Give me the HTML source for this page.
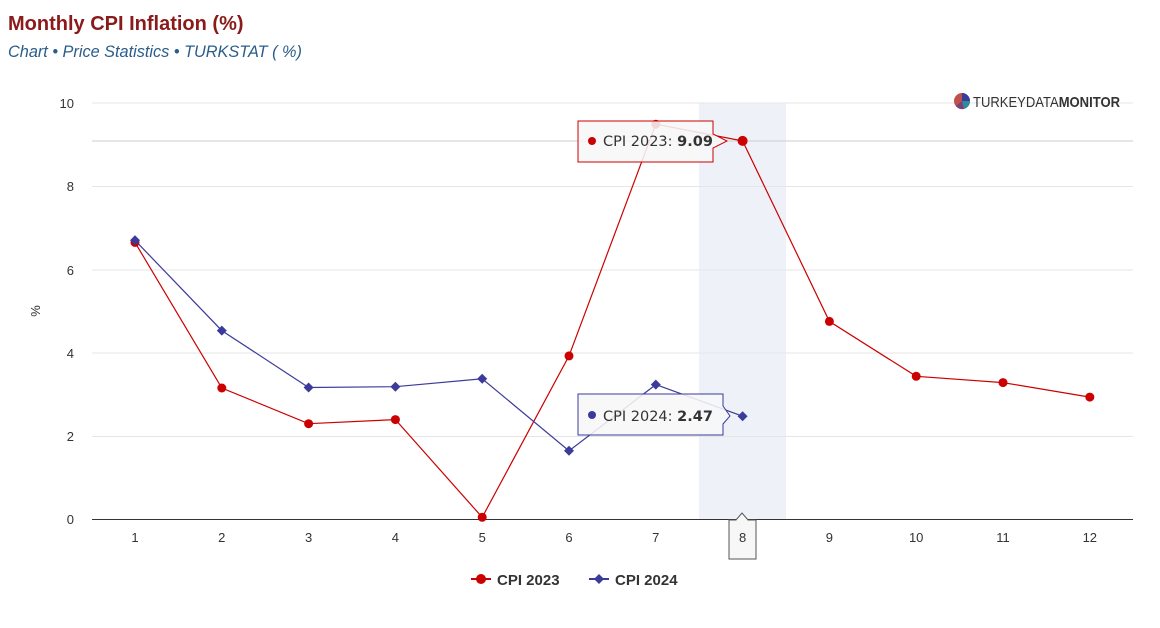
<!DOCTYPE html>
<html><head><meta charset="utf-8"><style>
body{margin:0;background:#fff;width:1160px;height:623px;overflow:hidden;font-family:"Liberation Sans",sans-serif}
</style></head><body>
<svg width="1160" height="623" xmlns="http://www.w3.org/2000/svg" font-family="Liberation Sans, sans-serif">
<text x="8" y="30" font-size="20" font-weight="bold" fill="#8b1a1a">Monthly CPI Inflation (%)</text>
<text x="8" y="57" font-size="16.3" font-style="italic" fill="#2a5d8a">Chart • Price Statistics • TURKSTAT ( %)</text>
<rect x="699" y="103" width="87" height="416" fill="#eef2f8"/>
<g stroke="#e6e6e6" stroke-width="1">
<line x1="92" x2="1133" y1="103" y2="103"/><line x1="92" x2="1133" y1="186.5" y2="186.5"/>
<line x1="92" x2="1133" y1="270" y2="270"/><line x1="92" x2="1133" y1="353" y2="353"/>
<line x1="92" x2="1133" y1="436.5" y2="436.5"/>
</g>
<line x1="92" x2="1133" y1="141" y2="141" stroke="#ccc"/>
<line x1="92" x2="1133" y1="519.5" y2="519.5" stroke="#333"/>
<g font-size="13" fill="#333" text-anchor="end">
<text x="74" y="108">10</text><text x="74" y="191">8</text><text x="74" y="275">6</text>
<text x="74" y="358">4</text><text x="74" y="441">2</text><text x="74" y="524">0</text>
</g>
<text x="40" y="311" font-size="13" fill="#333" transform="rotate(-90 40 311)" text-anchor="middle">%</text>
<g font-size="13" fill="#333" text-anchor="middle">
<text x="135" y="542">1</text><text x="221.8" y="542">2</text><text x="308.6" y="542">3</text>
<text x="395.4" y="542">4</text><text x="482.2" y="542">5</text><text x="569" y="542">6</text>
<text x="655.8" y="542">7</text><text x="829.4" y="542">9</text>
<text x="916.2" y="542">10</text><text x="1003" y="542">11</text><text x="1089.8" y="542">12</text>
</g>
<polyline fill="none" stroke="#cc0000" stroke-width="1.2" points="135,242.4 221.8,388 308.6,423.7 395.4,419.6 482.2,517.3 569,355.9 655.8,124.2 742.6,140.9 829.4,321.4 916.2,376.3 1003,382.6 1089.8,397.1"/>
<g fill="#cc0000">
<circle cx="135" cy="242.4" r="4.5"/><circle cx="221.8" cy="388" r="4.5"/><circle cx="308.6" cy="423.7" r="4.5"/>
<circle cx="395.4" cy="419.6" r="4.5"/><circle cx="482.2" cy="517.3" r="4.5"/><circle cx="569" cy="355.9" r="4.5"/>
<circle cx="655.8" cy="124.2" r="4.5"/><circle cx="742.6" cy="140.9" r="5"/><circle cx="829.4" cy="321.4" r="4.5"/>
<circle cx="916.2" cy="376.3" r="4.5"/><circle cx="1003" cy="382.6" r="4.5"/><circle cx="1089.8" cy="397.1" r="4.5"/>
</g>
<polyline fill="none" stroke="#3b3b9b" stroke-width="1.2" points="135,240.3 221.8,330.6 308.6,387.5 395.4,386.7 482.2,378.8 569,450.8 655.8,384.6 742.6,416.2"/>
<g fill="#3b3b9b">
<path d="M135 235.3l5 5-5 5-5-5z"/><path d="M221.8 325.6l5 5-5 5-5-5z"/><path d="M308.6 382.5l5 5-5 5-5-5z"/>
<path d="M395.4 381.7l5 5-5 5-5-5z"/><path d="M482.2 373.8l5 5-5 5-5-5z"/><path d="M569 445.8l5 5-5 5-5-5z"/>
<path d="M655.8 379.6l5 5-5 5-5-5z"/><path d="M742.6 411.2l5 5-5 5-5-5z"/>
</g>
<!-- tooltips -->
<path d="M578 121H713V134L727 141L713 148V162H578Z" fill="rgba(247,247,247,0.88)" stroke="#cc0000" stroke-width="1"/>
<circle cx="592" cy="141" r="4" fill="#cc0000"/>
<text x="603" y="146" font-size="14.5" fill="#333" font-family="DejaVu Sans, sans-serif">CPI 2023: <tspan font-weight="bold">9.09</tspan></text>
<path d="M578 394H723V406L730 416L723 424V435H578Z" fill="rgba(247,247,247,0.88)" stroke="#3b3b9b" stroke-width="1"/>
<circle cx="592" cy="415" r="4" fill="#3b3b9b"/>
<text x="603" y="421" font-size="14.5" fill="#333" font-family="DejaVu Sans, sans-serif">CPI 2024: <tspan font-weight="bold">2.47</tspan></text>
<path d="M729 520H736L742 513L748 520H756V559H729Z" fill="#f7f7f7" stroke="#555" stroke-width="1"/>
<text x="742.6" y="542" font-size="13" fill="#333" text-anchor="middle">8</text>
<!-- logo -->
<circle cx="962" cy="101" r="8" fill="#c0504d"/>
<path d="M962 101V93A8 8 0 0 1 970 101Z" fill="#3b3b9b"/>
<path d="M962 101H970A8 8 0 0 1 964 109Z" fill="#2e8b9b"/>
<path d="M962 101L964 109A8 8 0 0 1 956 106Z" fill="#7b3f7b"/>
<text x="973" y="107" font-size="15" fill="#333" textLength="147" lengthAdjust="spacingAndGlyphs">TURKEYDATA<tspan font-weight="bold">MONITOR</tspan></text>
<!-- legend -->
<line x1="471" x2="491" y1="579" y2="579" stroke="#cc0000" stroke-width="2"/>
<circle cx="481" cy="579" r="5" fill="#cc0000"/>
<text x="497" y="585" font-size="15" font-weight="bold" fill="#333">CPI 2023</text>
<line x1="589" x2="609" y1="579" y2="579" stroke="#3b3b9b" stroke-width="2"/>
<path d="M599 574l5 5-5 5-5-5z" fill="#3b3b9b"/>
<text x="615" y="585" font-size="15" font-weight="bold" fill="#333">CPI 2024</text>
</svg>
</body></html>
